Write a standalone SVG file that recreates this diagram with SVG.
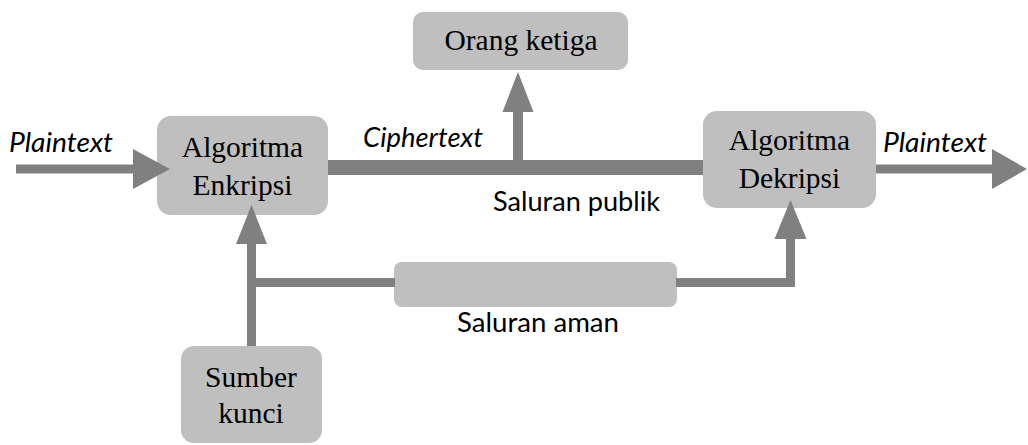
<svg xmlns="http://www.w3.org/2000/svg" width="1028" height="445" viewBox="0 0 1028 445">
<style>
.box{fill:#bfbfbf}
.con{fill:#808080}
.serif{font-family:"Liberation Serif","Times New Roman",serif;font-size:29.5px;fill:#000;text-anchor:middle}
.sans{font-family:Lato,"Open Sans",sans-serif;font-size:27px;fill:#000}
.it{font-style:italic}
</style>
<rect width="1028" height="445" fill="#fff"/>
<g id="connectors">
<rect class="con" x="326" y="160" width="378" height="15"/>
</g>
<g id="enkripsi">
<rect class="box" x="157" y="116" width="171" height="99" rx="14"/>
<text class="serif" x="242.5" y="157">Algoritma</text>
<text class="serif" x="242.5" y="195">Enkripsi</text>
</g>
<g id="dekripsi">
<rect class="box" x="703" y="111" width="173" height="97" rx="14"/>
<text class="serif" x="789.5" y="150">Algoritma</text>
<text class="serif" x="789.5" y="188">Dekripsi</text>
</g>
<g id="orang-ketiga">
<rect class="box" x="413" y="12" width="215" height="58" rx="10"/>
<text class="serif" x="521" y="50">Orang ketiga</text>
</g>
<g id="sumber-kunci">
<rect class="box" x="181" y="346" width="141" height="97" rx="13"/>
<text class="serif" x="251" y="387">Sumber</text>
<text class="serif" x="251" y="423">kunci</text>
</g>
<g id="saluran-aman">
<rect class="box" x="394" y="262" width="283" height="45" rx="8"/>
</g>
<g id="connectors-arrows">
<rect class="con" x="16" y="164.5" width="118" height="9"/>
<polygon class="con" points="133,149 170,169 133,189"/>
<rect class="con" x="876" y="164.5" width="117" height="9"/>
<polygon class="con" points="992,149 1027,169 992,189"/>
<rect class="con" x="513" y="111" width="10" height="50"/>
<polygon class="con" points="502.5,112 518,72 533.5,112"/>
<rect class="con" x="247" y="243" width="9" height="103"/>
<polygon class="con" points="236,244 251.5,205 267,244"/>
<rect class="con" x="247" y="278" width="148" height="9"/>
<rect class="con" x="676" y="278" width="119" height="9"/>
<rect class="con" x="786" y="238" width="9" height="49"/>
<polygon class="con" points="774.5,239 790.5,200 806.5,239"/>
<text class="sans it" x="9" y="152" textLength="104" lengthAdjust="spacingAndGlyphs">Plaintext</text>
<text class="sans it" x="363" y="147" textLength="120" lengthAdjust="spacingAndGlyphs">Ciphertext</text>
<text class="sans it" x="883" y="152" textLength="104" lengthAdjust="spacingAndGlyphs">Plaintext</text>
<text class="sans" x="493" y="211" textLength="167" lengthAdjust="spacingAndGlyphs">Saluran publik</text>
<text class="sans" x="457" y="332" textLength="162" lengthAdjust="spacingAndGlyphs">Saluran aman</text>
</g>
</svg>
